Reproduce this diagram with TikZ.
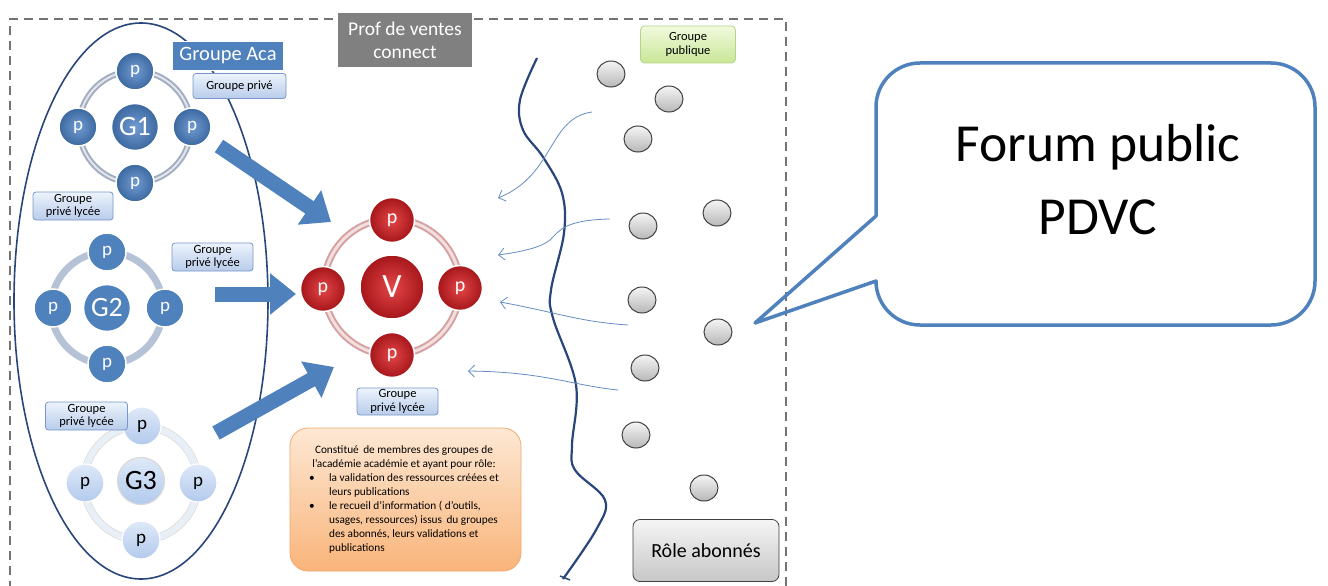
\documentclass[tikz,border=0pt]{standalone}
\usepackage{fontspec}
\setmainfont{Carlito}
\usetikzlibrary{arrows.meta,shapes.geometric}
\definecolor{gblue}{RGB}{79,129,189}
\definecolor{gblueL}{RGB}{112,156,210}
\definecolor{gblueD}{RGB}{60,104,160}
\definecolor{navy}{RGB}{40,70,122}
\definecolor{lbltop}{RGB}{236,243,252}
\definecolor{lblbot}{RGB}{184,204,234}
\definecolor{lblline}{RGB}{120,150,200}
\definecolor{grntop}{RGB}{242,250,222}
\definecolor{grnbot}{RGB}{200,230,150}
\definecolor{grnline}{RGB}{180,212,135}
\definecolor{ortop}{RGB}{253,232,212}
\definecolor{orbot}{RGB}{249,180,122}
\definecolor{orline}{RGB}{240,170,110}
\definecolor{redL}{RGB}{228,70,72}
\definecolor{redD}{RGB}{165,22,26}
\definecolor{ringG1}{RGB}{160,173,196}
\definecolor{ringG2}{RGB}{182,194,214}
\definecolor{ringG3}{RGB}{218,228,242}
\definecolor{ringV}{RGB}{214,160,160}
\definecolor{g3top}{RGB}{222,233,248}
\definecolor{g3bot}{RGB}{178,202,236}
\definecolor{thinarrow}{RGB}{100,140,195}
\definecolor{callout}{RGB}{79,129,189}
\tikzset{
  lbl/.style={draw=lblline, line width=0.8pt, rounded corners=3pt, top color=lbltop, bottom color=lblbot,
    font=\fontsize{12.5}{13.5}\selectfont, align=center, inner sep=0pt},
  gcirc/.style={circle, draw=white, line width=1.5pt, inner color=gblueL, outer color=gblueD, text=white, inner sep=0pt},
  gcirc2/.style={circle, draw=white, line width=1.5pt, fill=gblue, text=white, inner sep=0pt},
  gcirc3/.style={circle, draw=white, line width=1.2pt, top color=g3top, bottom color=g3bot, text=black, inner sep=0pt},
  vcirc/.style={circle, draw=white, line width=1.5pt, inner color=redL, outer color=redD, text=white, inner sep=0pt},
  bigc/.style={minimum size=47pt, font=\fontsize{28}{28}\selectfont},
  smallc/.style={minimum size=38pt, font=\fontsize{19}{19}\selectfont},
  sub/.style={ellipse, draw=black!75, line width=1pt, top color=black!4, bottom color=black!28, minimum width=28pt, minimum height=26pt, inner sep=0pt},
  blockarrow/.style={line width=15pt, gblue, -{Triangle[width=40pt,length=26pt]}, shorten >=0pt},
  thin/.style={thinarrow, line width=0.8pt, -{Straight Barb[length=6pt,width=12pt]}},
}
\begin{document}
\begin{tikzpicture}[x=1pt,y=-1pt]
\useasboundingbox (0,0) rectangle (1328,586);
% dashed frame
\draw[black!55, line width=2pt, dash pattern=on 9pt off 6pt] (10,590) -- (10,19) -- (786,19) -- (786,590);
% big ellipse
\draw[navy, line width=1.6pt] (141,301) ellipse [x radius=127, y radius=278];
% Prof box
\node[fill=black!50, draw=white, line width=1.5pt, text=white, font=\fontsize{19.5}{23}\selectfont, align=center,
  minimum width=136pt, minimum height=55pt, inner sep=0pt] (prof) at (405,40) {Prof de ventes\\connect};
% Groupe Aca
\node[fill=gblue, draw=white, line width=1.5pt, text=white, font=\fontsize{20.5}{20.5}\selectfont,
  minimum width=112pt, minimum height=29pt, inner sep=0pt] (aca) at (228,56) {Groupe Aca};
\node[lbl, minimum width=93pt, minimum height=25pt] (gp) at (239.5,86) {Groupe privé};

% G1 cluster
\draw[ringG1, line width=6pt] (135,127) circle (56);
\draw[black!10, line width=2pt] (135,127) circle (56);
\node[gcirc, bigc] (g1) at (135,127) {G1};
\node[gcirc, smallc] (g1t) at (135,71) {p};
\node[gcirc, smallc] (g1l) at (78,127) {p};
\node[gcirc, smallc] (g1r) at (192,127) {p};
\node[gcirc, smallc] (g1b) at (135,183) {p};
\node[lbl, minimum width=80pt, minimum height=28pt] (l1) at (73,206) {Groupe\\privé lycée};

% G2 cluster
\draw[ringG2, line width=7pt] (107,308) circle (56);
\node[gcirc2, bigc] (g2) at (107,308) {G2};
\node[gcirc2, smallc] (g2t) at (107,252) {p};
\node[gcirc2, smallc] (g2l) at (53,308) {p};
\node[gcirc2, smallc] (g2r) at (165,308) {p};
\node[gcirc2, smallc] (g2b) at (107,364) {p};
\node[lbl, minimum width=81pt, minimum height=28pt] (l2) at (212.5,257) {Groupe\\privé lycée};

% G3 cluster
\draw[black!12, line width=8pt] (141,483) circle (57);
\draw[ringG3!60!white, line width=6pt] (141,483) circle (57);
\node[gcirc3, bigc, draw=black!15] (g3) at (141,481) {G3};
\node[gcirc3, smallc] (g3t) at (142,426) {p};
\node[gcirc3, smallc] (g3l) at (85,483) {p};
\node[gcirc3, smallc] (g3r) at (198,483) {p};
\node[gcirc3, smallc] (g3b) at (141,540) {p};
\node[lbl, minimum width=82pt, minimum height=28pt] (l3) at (86.5,416) {Groupe\\privé lycée};

% V cluster
\draw[ringV, line width=7pt] (392,287) circle (68);
\draw[ringV!35!white, line width=3pt] (392,287) circle (68);
\node[vcirc, minimum size=64pt, font=\fontsize{34}{34}\selectfont] (v) at (392,287) {V};
\node[vcirc, minimum size=45pt, font=\fontsize{20}{20}\selectfont] (vt) at (392,220) {p};
\node[vcirc, minimum size=45pt, font=\fontsize{20}{20}\selectfont] (vl) at (323,289) {p};
\node[vcirc, minimum size=45pt, font=\fontsize{20}{20}\selectfont] (vr) at (460,288) {p};
\node[vcirc, minimum size=45pt, font=\fontsize{20}{20}\selectfont] (vb) at (392,355) {p};
\node[lbl, minimum width=81pt, minimum height=27pt] (lv) at (397.5,401.5) {Groupe\\privé lycée};

% block arrows
\coordinate (a1s) at (219,146);
\coordinate (a1e) at (331,222);
\coordinate (a2s) at (215,294);
\coordinate (a2e) at (296,294);
\coordinate (a3s) at (216,433);
\coordinate (a3e) at (334,367);
\draw[blockarrow] (a1s) -- (a1e);
\draw[blockarrow] (a2s) -- (a2e);
\draw[blockarrow] (a3s) -- (a3e);

% orange box
\node[draw=orline, line width=0.8pt, rounded corners=18pt, top color=ortop, bottom color=orbot,
  minimum width=231pt, minimum height=143pt, inner sep=0pt] (role) at (405.5,499.5) {};
\node[font=\fontsize{11.3}{14}\selectfont, inner sep=0pt] (roletxt) at (404,500) {%
\begin{tabular}{@{}p{16pt}@{\hspace{4pt}}l@{}}
\multicolumn{2}{@{}c@{}}{Constitué\, de membres des groupes de}\\
\multicolumn{2}{@{}c@{}}{l’académie académie et ayant pour rôle:}\\
• & la validation des ressources créées et\\
 & leurs publications\\
• & le recueil d’information ( d’outils,\\
 & usages, ressources) issus\, du groupes\\
 & des abonnés, leurs validations et\\
 & publications
\end{tabular}};

% wavy boundary
\draw[navy, line width=2.2pt] plot[smooth, tension=0.6] coordinates {(537,58) (520,100) (523,130) (543,157) (562,193) (564,233) (551,290) (553,318) (576,385) (572,445) (575,470) (605,500) (596,530) (563,579)};
\draw[navy, line width=1.4pt] (560,576) -- (570,580);

% subscribers
\node[sub] (s1) at (611,74) {};
\node[sub] (s2) at (669,99) {};
\node[sub] (s3) at (638,139) {};
\node[sub] (s4) at (717,213) {};
\node[sub] (s5) at (643,226) {};
\node[sub] (s6) at (642,300) {};
\node[sub] (s7) at (718,332) {};
\node[sub] (s8) at (645,368) {};
\node[sub] (s9) at (636,435) {};
\node[sub] (s10) at (704,488) {};

% thin arrows
\coordinate (t1s) at (592,112);
\coordinate (t1e) at (498,198);
\coordinate (t2s) at (610,219);
\coordinate (t2e) at (498,255);
\coordinate (t3s) at (628,325);
\coordinate (t3e) at (500,302);
\coordinate (t4s) at (618,390);
\coordinate (t4e) at (468,371);
\draw[thin] (t1s) .. controls (548,118) and (555,175) .. (t1e);
\draw[thin] (t2s) .. controls (565,220) and (560,230) .. (550,240) .. controls (540,248) and (520,252) .. (t2e);
\draw[thin] (t3s) .. controls (580,322) and (555,312) .. (t3e);
\draw[thin] (t4s) .. controls (570,385) and (545,372) .. (t4e);

% labels right
\node[draw=grnline, line width=0.8pt, rounded corners=4pt, top color=grntop, bottom color=grnbot,
  font=\fontsize{12.5}{14.5}\selectfont, align=center, minimum width=95pt, minimum height=37pt, inner sep=0pt] (pub) at (688,44.5) {Groupe\\publique};
\node[draw=black!75, line width=0.8pt, rounded corners=7pt, top color=black!4, bottom color=black!22,
  font=\fontsize{20}{20}\selectfont, minimum width=146pt, minimum height=62pt, inner sep=0pt] (abo) at (706,550.5) {Rôle abonnés};

% callout
\draw[callout, line width=3.5pt, line join=round] (876,216) -- (876,107) arc[start angle=180, end angle=270, radius=44]
  -- (1271,63) arc[start angle=270, end angle=360, radius=44]
  -- (1315,281) arc[start angle=0, end angle=90, radius=44]
  -- (920,325) arc[start angle=90, end angle=180, radius=44]
  -- (755,323) -- cycle;
\node[font=\fontsize{53.5}{73}\selectfont, align=center, inner sep=0pt] (forum) at (1098,180) {Forum public\\PDVC};
\end{tikzpicture}
\end{document}
